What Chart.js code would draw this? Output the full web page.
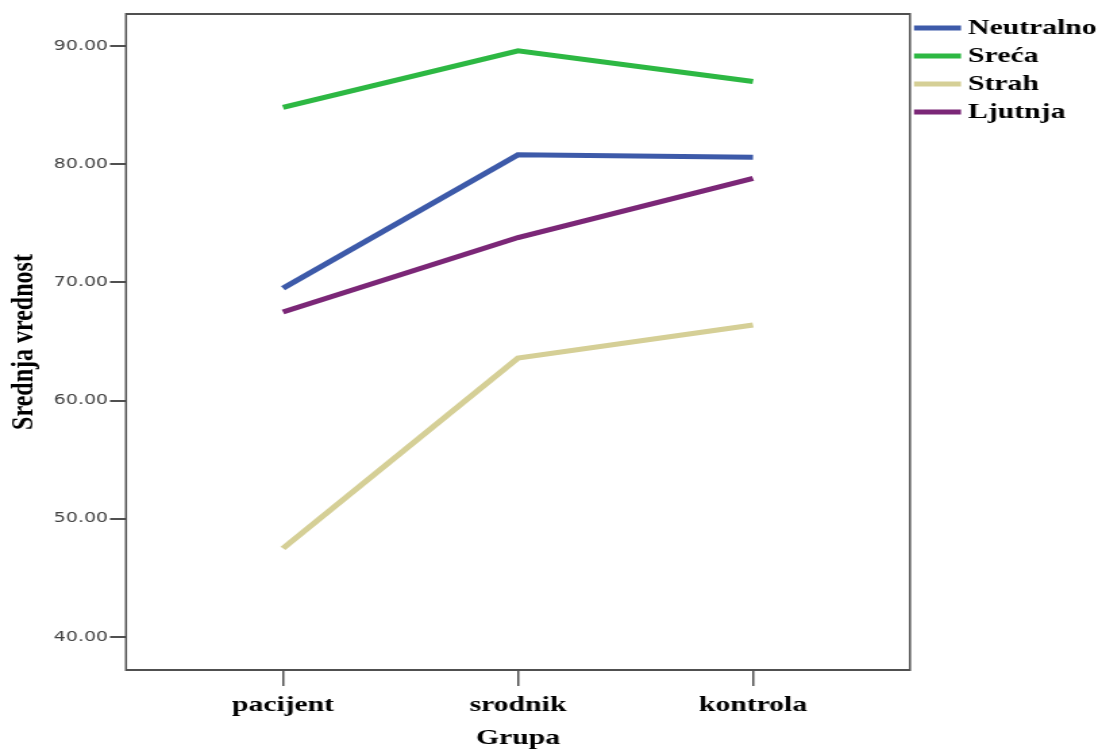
<!DOCTYPE html>
<html>
<head>
<meta charset="utf-8">
<script src="https://cdn.jsdelivr.net/npm/chart.js@4"></script>
<style>
  html, body { margin:0; padding:0; background:#fff; overflow:hidden; }
</style>
</head>
<body>
<!-- the original picture is stretched sideways, so the canvas is too (inline style so Chart.js keeps it) -->
<canvas id="chart" width="816" height="752" style="display:block;width:1102px;height:752px"></canvas>
<script>
const groups = ['pacijent', 'srodnik', 'kontrola'];
const neutralno = [69.5, 80.8, 80.6];
const sreca = [84.8, 89.6, 87.0];
const strah = [47.5, 63.6, 66.4];
const ljutnja = [67.5, 73.8, 78.8];
const yTicks = [40, 50, 60, 70, 80, 90];

const S = 1102 / 816; // horizontal stretch
const serif = '"Liberation Serif", "Times New Roman", serif';
const axisColor = '#505050';

function points(arr){
    return groups.map((g, i) => ({x: i, y: arr[i]}));
}

function line(label, arr, color){
    return {
        label,
        data: points(arr),
        borderColor: color,
        backgroundColor: color,
        borderWidth: 5,
        pointRadius: 0,
        tension: 0,
        fill: false
    };
}

// frame round the plot + legend at the right
const framePlugin = {
    id: 'frame',
    afterDraw(chart){
        const {ctx, chartArea: a} = chart;
        ctx.save();
        ctx.strokeStyle = axisColor;
        ctx.lineWidth = 2;
        ctx.beginPath();
        ctx.moveTo(a.left, a.top); ctx.lineTo(a.right, a.top);
        ctx.moveTo(a.left, a.bottom); ctx.lineTo(a.right, a.bottom);
        ctx.stroke();
        ctx.lineWidth = 1.5;
        ctx.beginPath();
        ctx.moveTo(a.left, a.top - 1); ctx.lineTo(a.left, a.bottom + 1);
        ctx.moveTo(a.right, a.top - 1); ctx.lineTo(a.right, a.bottom + 1);
        ctx.stroke();

        // legend
        ctx.font = 'bold 22px ' + serif;
        ctx.textBaseline = 'middle';
        ctx.textAlign = 'left';
        chart.data.datasets.forEach((ds, i) => {
            const y = 28 + i * 28;
            ctx.strokeStyle = ds.borderColor;
            ctx.lineWidth = 5;
            ctx.beginPath();
            ctx.moveTo(914 / S, y);
            ctx.lineTo(961 / S, y);
            ctx.stroke();
            ctx.fillStyle = '#000';
            ctx.fillText(ds.label, 968 / S, y);
        });
        ctx.restore();
    }
};

new Chart(document.getElementById('chart'), {
    type: 'line',
    data: {
        datasets: [
            line('Neutralno', neutralno, '#3d5aa9'),
            line('Sreća', sreca, '#2db843'),
            line('Strah', strah, '#d5cf96'),
            line('Ljutnja', ljutnja, '#7b2777')
        ]
    },
    options: {
        responsive: false,
        devicePixelRatio: 1,
        animation: false,
        layout: { padding: { top: 14, right: 816 - 910 / S, bottom: 0, left: 0 } },
        plugins: {
            legend: { display: false },
            tooltip: { enabled: false }
        },
        scales: {
            x: {
                type: 'linear',
                min: -0.668,
                max: 2.668,
                afterBuildTicks: s => { s.ticks = groups.map((g, i) => ({value: i})); },
                afterFit: s => { s.height = 82; },
                border: { display: false },
                grid: { drawOnChartArea: false, drawTicks: true, tickLength: 16, color: axisColor, lineWidth: 1.5 },
                ticks: {
                    padding: 6,
                    color: '#000',
                    font: { family: serif, size: 22, weight: 'bold' },
                    callback: v => groups[v]
                },
                title: {
                    display: true,
                    text: 'Grupa',
                    color: '#000',
                    padding: { top: 0, bottom: 0 },
                    font: { family: serif, size: 22, weight: 'bold' }
                }
            },
            y: {
                min: 37.21,
                max: 92.71,
                afterBuildTicks: s => { s.ticks = yTicks.map(v => ({value: v})); },
                afterFit: s => { s.width = 126 / S; },
                border: { display: false },
                grid: { drawOnChartArea: false, drawTicks: true, tickLength: 16 / S, color: axisColor, lineWidth: 2 },
                ticks: {
                    padding: 1.5,
                    color: '#404040',
                    font: { family: '"DejaVu Sans", sans-serif', size: 14 },
                    callback: v => v.toFixed(2)
                },
                title: {
                    display: true,
                    text: 'Srednja vrednost',
                    color: '#000',
                    padding: { top: 3.4, bottom: 0 },
                    font: { family: serif, size: 24, weight: 'bold' }
                }
            }
        }
    },
    plugins: [framePlugin]
});
</script>
</body>
</html>
